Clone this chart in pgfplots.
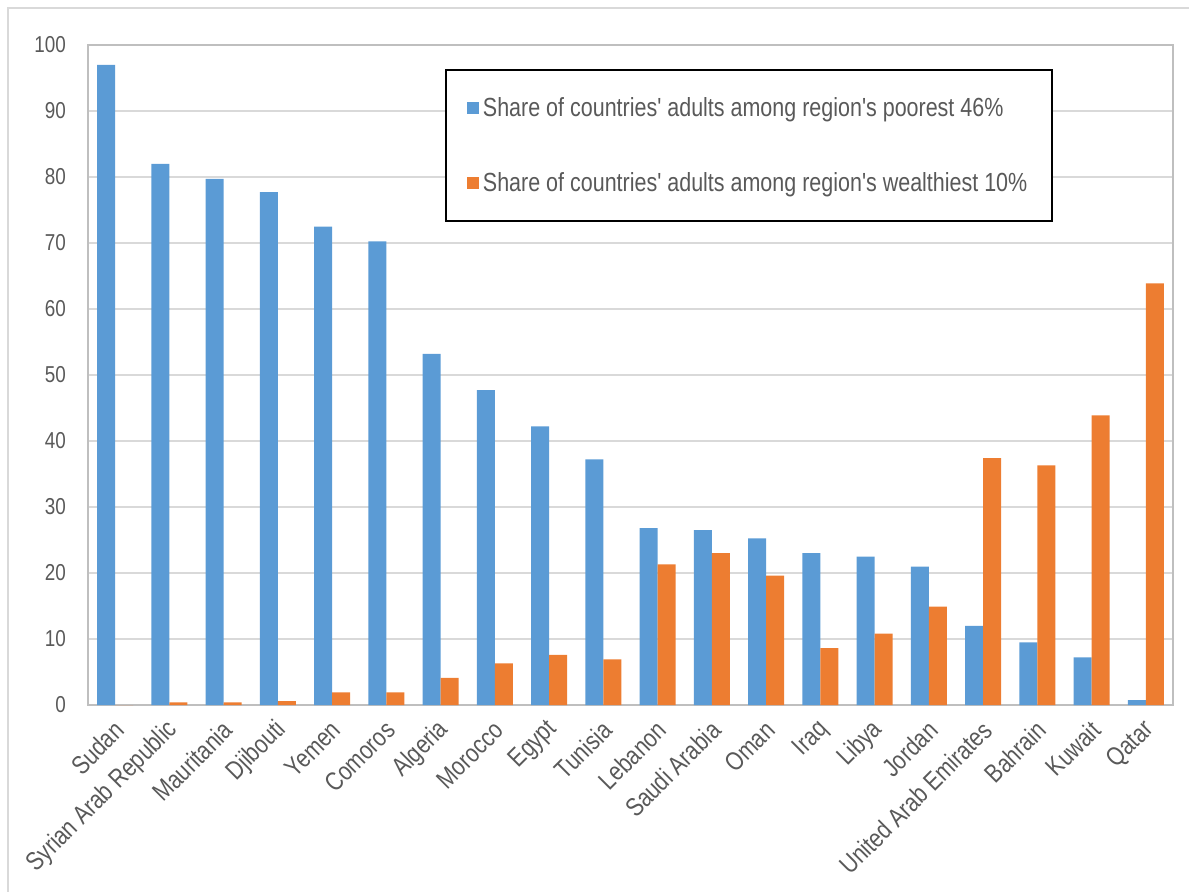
\documentclass[border=0pt]{standalone}
\usepackage{fontspec}
\setmainfont{Liberation Sans}[FakeStretch=0.82, Ligatures=TeXOff]
\usepackage{pgfplots}
\pgfplotsset{compat=1.18}
\definecolor{poorblue}{HTML}{5B9BD5}
\definecolor{richorange}{HTML}{ED7D31}
\definecolor{labelgray}{HTML}{595959}
\definecolor{gridgray}{HTML}{D9D9D9}
\definecolor{framegray}{HTML}{BFBFBF}

\begin{document}
\begin{tikzpicture}[x=1pt,y=1pt]
\path[use as bounding box] (0,0) rectangle (594.5,445.5);
\draw[gridgray, line width=1pt] (4,-5) -- (4,441.5) -- (600,441.5);
\begin{axis}[
  at={(44pt,93pt)}, anchor=south west,
  scale only axis, width=542.5pt, height=330pt,
  xmin=-0.5, xmax=19.5, ymin=0, ymax=100,
  ybar=0pt, bar width=0.33,
  axis line style={framegray, line width=1pt},
  ymajorgrids, major grid style={gridgray, line width=1pt},
  major tick length=0pt,
  ytick={0,10,...,100},
  xtick={0,...,19},
  xticklabels={Sudan, Syrian Arab Republic, Mauritania, Djibouti, Yemen, Comoros, Algeria, Morocco, Egypt, Tunisia, Lebanon, Saudi Arabia, Oman, Iraq, Libya, Jordan, United Arab Emirates, Bahrain, Kuwait, Qatar},
  /pgf/number format/assume math mode=true,
  tick label style={text=labelgray},
  yticklabel style={font=\fontsize{11.5}{13}\selectfont, xshift=-7.5pt},
  xticklabel style={font=\fontsize{13}{15}\selectfont, xshift=4.5pt, yshift=-8pt, rotate=45, anchor=east},
  legend cell align=left,
  legend style={at={(rel axis cs:0.329,0.9636)}, anchor=north west,
    draw=black, line width=1pt, font=\fontsize{13.1}{15}\selectfont,
    text=labelgray, inner xsep=10.5pt, inner ysep=11.5pt, row sep=22.5pt},
  legend image code/.code={\fill[#1,draw=none] (0pt,-3pt) rectangle (6pt,3pt);},
]
\addplot[fill=poorblue, draw=none, bar shift=-0.166] coordinates {
  (0,97.0) (1,82.0) (2,79.7) (3,77.7) (4,72.5) (5,70.25) (6,53.2) (7,47.7)
  (8,42.2) (9,37.2) (10,26.8) (11,26.5) (12,25.25) (13,23.0) (14,22.5)
  (15,20.95) (16,12.0) (17,9.5) (18,7.2) (19,0.75)};
\addlegendentry{Share of countries' adults among region's poorest 46\%}
\addplot[fill=richorange, draw=none, bar shift=0.166] coordinates {
  (0,0) (1,0.4) (2,0.4) (3,0.6) (4,1.9) (5,1.9) (6,4.1) (7,6.3)
  (8,7.6) (9,6.9) (10,21.3) (11,23.0) (12,19.6) (13,8.6) (14,10.8)
  (15,14.9) (16,37.4) (17,36.3) (18,43.9) (19,63.9)};
\addlegendentry{Share of countries' adults among region's wealthiest 10\%}
\end{axis}
\end{tikzpicture}
\end{document}
